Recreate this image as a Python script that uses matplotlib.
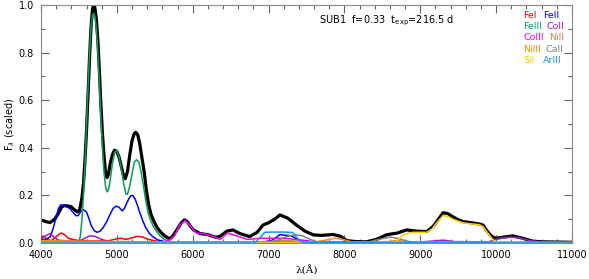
import matplotlib
matplotlib.use("Agg")
import matplotlib.pyplot as plt
from matplotlib.ticker import MultipleLocator

plt.rcParams['font.family'] = ['DejaVu Sans']

# total spectrum (scaled)
wl_tot = [4000, 4060, 4120, 4180, 4230, 4270, 4300, 4350, 4400, 4440, 4480, 4510,
          4540, 4560, 4580, 4600, 4620, 4640, 4660, 4680, 4695, 4710, 4730, 4750,
          4770, 4790, 4810, 4830, 4850, 4870, 4890, 4910, 4940, 4970, 5000, 5030,
          5060, 5090, 5110, 5140, 5170, 5200, 5230, 5250, 5275, 5300, 5330, 5360,
          5390, 5420, 5450, 5490, 5530, 5580, 5630, 5680, 5720, 5760, 5800, 5850,
          5890, 5930, 5970, 6010, 6095, 6200, 6300, 6360, 6450, 6530, 6620, 6750,
          6850, 6925, 7000, 7080, 7150, 7250, 7370, 7480, 7590, 7700, 7850, 7950,
          8030, 8150, 8290, 8420, 8560, 8700, 8820, 8950, 9085, 9170, 9240, 9300,
          9360, 9430, 9500, 9560, 9680, 9780, 9830, 9870, 9920, 9955, 10000, 10100,
          10220, 10350, 10480, 10600, 10800, 11000]
f_tot = [0.097, 0.09, 0.086, 0.10, 0.125, 0.15, 0.157, 0.156, 0.152, 0.14, 0.13, 0.14,
         0.19, 0.25, 0.35, 0.47, 0.62, 0.78, 0.91, 0.985, 1.0, 0.99, 0.94, 0.85,
         0.72, 0.58, 0.46, 0.37, 0.30, 0.275, 0.29, 0.33, 0.37, 0.39, 0.385, 0.36,
         0.32, 0.28, 0.27, 0.30, 0.37, 0.43, 0.46, 0.465, 0.455, 0.42, 0.36, 0.30,
         0.22, 0.16, 0.12, 0.09, 0.065, 0.045, 0.03, 0.02, 0.022, 0.04, 0.06, 0.085,
         0.097, 0.09, 0.07, 0.055, 0.04, 0.035, 0.024, 0.028, 0.05, 0.055, 0.04,
         0.027, 0.045, 0.075, 0.085, 0.10, 0.118, 0.105, 0.075, 0.05, 0.034, 0.032,
         0.036, 0.028, 0.010, 0.006, 0.005, 0.015, 0.035, 0.042, 0.055, 0.050,
         0.048, 0.07, 0.10, 0.127, 0.124, 0.11, 0.098, 0.09, 0.085, 0.08, 0.075,
         0.055, 0.035, 0.025, 0.02, 0.025, 0.03, 0.02, 0.008, 0.005, 0.004, 0.003]

# FeI
wl_fe1 = [4000, 4030, 4080, 4130, 4180, 4230, 4270, 4310, 4360, 4420, 4500, 4700,
          4900, 5000, 5060, 5120, 5200, 5280, 5340, 5420, 5520, 5620, 5800, 11000]
f_fe1 = [0.02, 0.03, 0.015, 0.01, 0.02, 0.035, 0.042, 0.035, 0.02, 0.015, 0.01, 0.008,
         0.01, 0.018, 0.02, 0.015, 0.022, 0.028, 0.025, 0.015, 0.008, 0.004, 0.002, 0.001]

# FeII
wl_fe2 = [4000, 4060, 4120, 4160, 4200, 4230, 4260, 4300, 4340, 4380, 4420, 4460,
          4490, 4520, 4560, 4600, 4630, 4660, 4700, 4740, 4780, 4820, 4866, 4910,
          4950, 4990, 5030, 5070, 5100, 5140, 5180, 5210, 5240, 5270, 5300, 5340,
          5380, 5430, 5480, 5540, 5620, 5800, 6900, 7050, 7150, 7300, 7400, 7500,
          7600, 8000, 11000]
f_fe2 = [0.013, 0.015, 0.025, 0.06, 0.11, 0.145, 0.16, 0.157, 0.152, 0.145, 0.13,
         0.115, 0.115, 0.13, 0.14, 0.13, 0.105, 0.075, 0.052, 0.045, 0.05, 0.065,
         0.09, 0.12, 0.145, 0.155, 0.15, 0.135, 0.145, 0.175, 0.198, 0.2, 0.185,
         0.16, 0.13, 0.095, 0.065, 0.04, 0.025, 0.013, 0.006, 0.002, 0.002, 0.012,
         0.035, 0.03, 0.012, 0.01, 0.002, 0.001, 0.001]

# FeIII
wl_fe3 = [4000, 4480, 4500, 4520, 4540, 4560, 4580, 4600, 4620, 4640, 4660, 4680,
          4695, 4710, 4730, 4750, 4770, 4790, 4810, 4830, 4850, 4870, 4890, 4910,
          4940, 4970, 5000, 5030, 5060, 5090, 5120, 5140, 5170, 5200, 5230, 5260,
          5290, 5320, 5350, 5380, 5410, 5440, 5480, 5520, 5570, 5630, 5700, 5800,
          11000]
f_fe3 = [0.0, 0.0, 0.005, 0.03, 0.10, 0.20, 0.33, 0.49, 0.65, 0.80, 0.91, 0.96,
         0.965, 0.955, 0.90, 0.80, 0.67, 0.53, 0.40, 0.30, 0.24, 0.215, 0.225, 0.26,
         0.33, 0.38, 0.39, 0.36, 0.31, 0.25, 0.205, 0.205, 0.24, 0.29, 0.34, 0.35,
         0.34, 0.30, 0.24, 0.18, 0.13, 0.10, 0.07, 0.05, 0.03, 0.015, 0.006, 0.003,
         0.002]

# CoII
wl_co2 = [4000, 4060, 4120, 4170, 4230, 4350, 4500, 4580, 4640, 4710, 4800, 4900,
          5000, 8900, 9150, 9300, 9450, 9900, 10050, 10200, 10300, 10450, 10600, 11000]
f_co2 = [0.015, 0.03, 0.04, 0.025, 0.012, 0.008, 0.008, 0.02, 0.03, 0.028, 0.015,
         0.006, 0.003, 0.002, 0.008, 0.012, 0.006, 0.005, 0.02, 0.025, 0.022, 0.01,
         0.004, 0.002]

# CoIII
wl_co3 = [4000, 5600, 5700, 5760, 5830, 5900, 5960, 6050, 6140, 6270, 6360, 6460,
          6580, 6720, 6890, 7060, 7230, 7400, 7550, 7700, 8000, 11000]
f_co3 = [0.003, 0.004, 0.012, 0.03, 0.076, 0.094, 0.075, 0.04, 0.04, 0.027, 0.015,
         0.042, 0.03, 0.015, 0.02, 0.02, 0.02, 0.012, 0.006, 0.003, 0.002, 0.001]

# NiII
wl_ni2 = [4000, 6900, 7050, 7200, 7350, 7500, 11000]
f_ni2 = [0.003, 0.003, 0.008, 0.012, 0.008, 0.003, 0.002]

# NiIII
wl_ni3 = [4000, 4500, 5000, 5600, 6000, 7600, 7750, 7880, 7980, 8100, 8600, 8700,
          8800, 11000]
f_ni3 = [0.01, 0.008, 0.006, 0.005, 0.004, 0.004, 0.012, 0.02, 0.015, 0.004, 0.006,
         0.012, 0.005, 0.002]

# CaII
wl_ca2 = [4000, 7050, 7150, 7250, 7350, 7450, 7550, 7650, 8300, 8450, 8600, 8700,
          8800, 8900, 11000]
f_ca2 = [0.002, 0.002, 0.015, 0.028, 0.035, 0.03, 0.015, 0.003, 0.003, 0.015, 0.025,
         0.02, 0.01, 0.003, 0.002]

# SiI
wl_si1 = [4000, 8650, 8700, 8770, 8900, 9085, 9160, 9215, 9300, 9360, 9430, 9560,
          9680, 9780, 9830, 9870, 9920, 9955, 10000, 11000]
f_si1 = [0.0, 0.0, 0.01, 0.035, 0.045, 0.045, 0.06, 0.085, 0.115, 0.112, 0.1, 0.085,
         0.08, 0.077, 0.068, 0.05, 0.03, 0.015, 0.003, 0.0]

# ArIII
wl_ar3 = [4000, 6820, 6880, 6950, 7050, 7200, 7320, 7380, 7450, 11000]
f_ar3 = [0.0, 0.0, 0.02, 0.045, 0.046, 0.046, 0.044, 0.02, 0.002, 0.0]

ions = [
    ("FeI", wl_fe1, f_fe1, "#ff0000"),
    ("FeII", wl_fe2, f_fe2, "#0000ff"),
    ("FeIII", wl_fe3, f_fe3, "#11995a"),
    ("CoII", wl_co2, f_co2, "#9a1fc8"),
    ("CoIII", wl_co3, f_co3, "#ff00ff"),
    ("NiII", wl_ni2, f_ni2, "#b8895a"),
    ("NiIII", wl_ni3, f_ni3, "#ff8c00"),
    ("CaII", wl_ca2, f_ca2, "#808080"),
    ("SiI", wl_si1, f_si1, "#ffcc00"),
    ("ArIII", wl_ar3, f_ar3, "#1e90ff"),
]

fig = plt.figure(figsize=(5.89, 2.79), dpi=100)
ax = fig.add_axes([0.0696, 0.129, 0.9015, 0.853])

ax.plot(wl_tot, f_tot, color="black", lw=2.3, zorder=2,
        solid_joinstyle="round")
for name, wl, f, col in ions:
    ax.plot(wl, f, color=col, lw=1.1, zorder=3, solid_joinstyle="round")

ax.set_xlim(4000, 11000)
ax.set_ylim(0, 1.0)
ax.xaxis.set_major_locator(MultipleLocator(1000))
ax.xaxis.set_minor_locator(MultipleLocator(200))
ax.yaxis.set_major_locator(MultipleLocator(0.2))
ax.yaxis.set_minor_locator(MultipleLocator(0.1))
ax.tick_params(which="both", direction="in", top=True, right=True,
               labelsize=7, color="#666666", width=0.8, pad=5)
ax.tick_params(which="major", length=6)
ax.tick_params(which="minor", length=3)
for s in ax.spines.values():
    s.set_color("#888888")
    s.set_linewidth(0.8)

ax.set_xlabel("λ(Å)", fontsize=7.5, family="DejaVu Serif", labelpad=4)
ax.set_ylabel(r"F$_\lambda$ (scaled)", fontsize=7, labelpad=1)

ax.text(0.5235, 0.935, r"SUB1  f=0.33  t$_{\rm exp}$=216.5 d", transform=ax.transAxes,
        fontsize=7, va="center", ha="left")

# coloured ion labels, two per row
label_x = [523, 542.7, 523, 546.7, 523, 549, 523, 545, 523, 542.7]
label_y = [15, 15, 26.7, 26.7, 37.7, 37.7, 49.3, 49.3, 60.7, 60.7]
for (name, wl, f, col), lx, ly in zip(ions, label_x, label_y):
    fig.text(lx / 589, 1 - ly / 279, name, color=col, fontsize=6.8,
             ha="left", va="center")

fig.savefig("out.png", dpi=100)
